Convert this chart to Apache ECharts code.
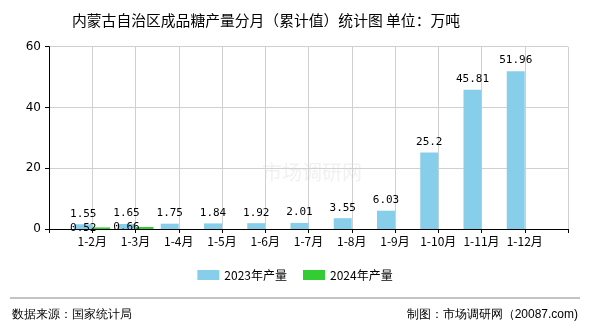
<!DOCTYPE html>
<html><head><meta charset="utf-8">
<script src="https://cdn.jsdelivr.net/npm/echarts@6/dist/echarts.min.js"></script>
<style>html,body{margin:0;padding:0;background:#fff}#c{width:590px;height:330px}</style>
</head><body><div id="c"></div>
<script>
var categories = ['1-2月','1-3月','1-4月','1-5月','1-6月','1-7月','1-8月','1-9月','1-10月','1-11月','1-12月'];
var values2023 = [1.55,1.65,1.75,1.84,1.92,2.01,3.55,6.03,25.2,45.81,51.96];
var values2024 = [0.52,0.66,null,null,null,null,null,null,null,null,null];
var yTicks = [0,20,40,60];

var axisCats = [''].concat(categories).concat(['']);
var pad = function(a){ return [null].concat(a).concat([null]); };
var font = '"DejaVu Sans Mono", monospace';
var chart = echarts.init(document.getElementById('c'), null, {renderer:'canvas'});
chart.setOption({
  animation:false,
  backgroundColor:'#fff',
  title:{text:'内蒙古自治区成品糖产量分月（累计值）统计图 单位：万吨', left:67, top:8,
    textStyle:{fontSize:14.8, fontWeight:'normal', color:'#000', fontFamily:'"Noto Sans CJK SC", sans-serif'}},
  grid:{left:49, right:22, top:46.7, bottom:101, containLabel:false},
  legend:{bottom:44, left:'center', itemWidth:22, itemHeight:10, itemGap:16,
    textStyle:{fontSize:12, color:'#000', fontFamily:'"Noto Sans CJK SC", sans-serif'},
    data:[{name:'2023年产量', icon:'rect'},{name:'2024年产量', icon:'rect'}]},
  xAxis:{type:'category', data:axisCats, boundaryGap:false,
    axisLine:{lineStyle:{color:'#000'}}, axisTick:{show:true, lineStyle:{color:'#000'}, length:4},
    axisLabel:{color:'#000', fontSize:12, fontFamily:'"Noto Sans CJK SC", sans-serif', interval:0, margin:6},
    splitLine:{show:true, lineStyle:{color:'#d0d0d0'}}},
  yAxis:{type:'value', min:yTicks[0], max:yTicks[yTicks.length-1], interval:20,
    axisLine:{show:true, lineStyle:{color:'#000'}}, axisTick:{show:true, lineStyle:{color:'#000'}, length:4},
    axisLabel:{color:'#000', fontSize:12, fontFamily:'"DejaVu Sans", sans-serif', margin:8},
    splitLine:{show:true, lineStyle:{color:'#d0d0d0'}}},
  series:[
    {name:'2023年产量', type:'bar', data:pad(values2023), barWidth:18, barGap:'0%',
     itemStyle:{color:'#87CEEB'},
     label:{show:true, position:'top', distance:5, color:'#000', fontSize:11, fontFamily:font}},
    {name:'2024年产量', type:'bar', data:pad(values2024), barWidth:18,
     itemStyle:{color:'#33CC33'},
     label:{show:true, position:'top', distance:-6, offset:[-18,0], color:'#000', fontSize:11, fontFamily:font}}
  ],
  graphic:[
    {type:'line', shape:{x1:10, y1:298, x2:580, y2:298}, style:{stroke:'#888', lineWidth:1}},
    {type:'text', left:12, top:309, style:{text:'数据来源：国家统计局', fontSize:12, fill:'#000', font:'12px "Noto Sans CJK SC", sans-serif'}},
    {type:'text', right:12, top:309, style:{text:'制图：市场调研网（20087.com)', fontSize:12, fill:'#000', font:'12px "Noto Sans CJK SC", sans-serif'}},
    {type:'text', left:262, top:162, z:-1, style:{text:'市场调研网', fill:'rgba(200,200,200,0.25)', font:'20px "Noto Sans CJK SC", sans-serif'}}
  ]
});
</script></body></html>
